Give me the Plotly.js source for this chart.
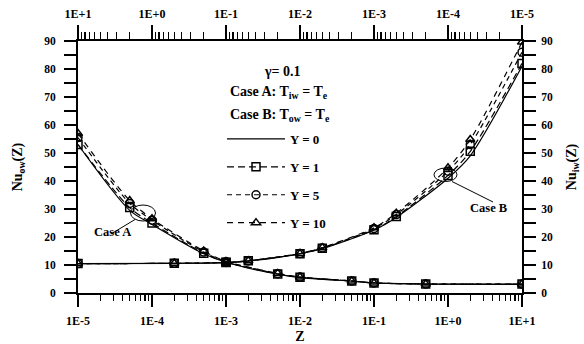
<!DOCTYPE html>
<html><head><meta charset="utf-8">
<script src="https://cdn.plot.ly/plotly-3.0.1.min.js"></script>
<style>html,body{margin:0;padding:0;background:#fff}#chart{width:584px;height:344px}</style>
</head><body><div id="chart"></div>
<script>
// Z values at which the curves are marked (bottom axis for Case A, reversed top axis for Case B)
const zValues = [1e-5, 5e-5, 1e-4, 5e-4, 1e-3, 5e-3, 1e-2, 5e-2, 1e-1, 5e-1, 10];
// Case A: Nu_ow(Z)
const caseA_Y0  = [53, 29.5, 24.5, 14.0, 11.0, 6.7, 5.5, 4.2, 3.6, 3.2, 3.1];
const caseA_Y1  = [53, 30.5, 25.0, 14.2, 11.0, 6.8, 5.6, 4.3, 3.6, 3.2, 3.2];
const caseA_Y5  = [55.5, 32.0, 26.0, 14.6, 11.2, 6.9, 5.7, 4.3, 3.6, 3.2, 3.2];
const caseA_Y10 = [57, 33.0, 26.5, 15.0, 11.3, 7.0, 5.7, 4.3, 3.6, 3.2, 3.2];
// Case B: Nu_iw(Z)
const caseB_Y0  = [81, 49.0, 41.0, 27.0, 22.5, 15.8, 14.0, 11.4, 10.8, 10.6, 10.5];
const caseB_Y1  = [82, 50.6, 42.0, 27.3, 22.6, 16.0, 14.0, 11.5, 10.9, 10.6, 10.5];
const caseB_Y5  = [86, 53.0, 43.5, 28.0, 23.0, 16.1, 14.1, 11.5, 10.9, 10.6, 10.5];
const caseB_Y10 = [89.6, 54.8, 44.7, 28.5, 23.3, 16.2, 14.1, 11.5, 10.9, 10.6, 10.5];
// legend names
const seriesNames = ['Y = 0', 'Y = 1', 'Y = 5', 'Y = 10'];
// tick labels
const bottomTickVals = [1e-5, 1e-4, 1e-3, 1e-2, 1e-1, 1, 10];
const bottomTickText = ['1E-5', '1E-4', '1E-3', '1E-2', '1E-1', '1E+0', '1E+1'];
const topTickVals = [10, 1, 1e-1, 1e-2, 1e-3, 1e-4, 1e-5];
const topTickText = ['1E+1', '1E+0', '1E-1', '1E-2', '1E-3', '1E-4', '1E-5'];

const FONT = 'Liberation Serif';
const styles = [
  {mode: 'lines', dash: 'solid', symbol: 'square-open'},
  {mode: 'lines+markers', dash: '7px,4px', symbol: 'square-open'},
  {mode: 'lines+markers', dash: '5px,4px', symbol: 'circle-open'},
  {mode: 'lines+markers', dash: '6px,5px', symbol: 'triangle-up-open'}
];
const aSets = [caseA_Y0, caseA_Y1, caseA_Y5, caseA_Y10];
const bSets = [caseB_Y0, caseB_Y1, caseB_Y5, caseB_Y10];
const traces = [];
aSets.forEach((ys, i) => {
  traces.push({
    x: zValues, y: ys, xaxis: 'x', yaxis: 'y', type: 'scatter', mode: styles[i].mode,
    name: seriesNames[i], legendgroup: 'g' + i, showlegend: true,
    line: {color: '#000', width: 1.2, dash: styles[i].dash, shape: 'spline', smoothing: 0.8},
    marker: {symbol: styles[i].symbol, size: 8, color: '#000', line: {color: '#000', width: 1.5}}
  });
});
bSets.forEach((ys, i) => {
  traces.push({
    x: zValues, y: ys, xaxis: 'x2', yaxis: 'y2', type: 'scatter', mode: styles[i].mode,
    name: seriesNames[i], legendgroup: 'g' + i, showlegend: false,
    line: {color: '#000', width: 1.2, dash: styles[i].dash, shape: 'spline', smoothing: 0.8},
    marker: {symbol: styles[i].symbol, size: 8, color: '#000', line: {color: '#000', width: 1.5}}
  });
});

const tickFontX = {family: FONT, size: 12, color: '#000', weight: 'bold'};
const tickFontY = {family: FONT, size: 11.5, color: '#000', weight: 'bold'};
function px(x) { return (x - 78) / 444; }
function py(y) { return (293 - y) / 252; }

const layout = {
  width: 584, height: 344,
  margin: {l: 78, r: 62, t: 41, b: 51},
  paper_bgcolor: '#fff', plot_bgcolor: '#fff',
  font: {family: FONT, color: '#000'},
  showlegend: true,
  legend: {x: px(222), y: py(124), xanchor: 'left', yanchor: 'top', bgcolor: 'rgba(0,0,0,0)',
    font: {family: FONT, size: 13, color: '#000', weight: 'bold'}, tracegroupgap: 8, itemwidth: 58},
  xaxis: {type: 'log', range: [-5, 1], tickmode: 'array', tickvals: bottomTickVals, ticktext: bottomTickText,
    showline: true, linewidth: 2, linecolor: '#000', ticks: 'outside', ticklen: 12, tickwidth: 2, tickcolor: '#000',
    showgrid: false, zeroline: false, tickfont: tickFontX, ticklabelstandoff: 4,
    minor: {dtick: 'D1', ticks: 'outside', ticklen: 6, tickwidth: 1.5, tickcolor: '#000', showgrid: false},
    title: {text: 'Z', font: {family: FONT, size: 14, color: '#000', weight: 'bold'}, standoff: 5}},
  xaxis2: {type: 'log', range: [1, -5], overlaying: 'x', side: 'top', anchor: 'y', tickmode: 'array',
    tickvals: topTickVals, ticktext: topTickText,
    showline: true, linewidth: 2, linecolor: '#000', ticks: 'outside', ticklen: 14, tickwidth: 2, tickcolor: '#000',
    showgrid: false, zeroline: false, tickfont: tickFontX, ticklabelstandoff: 2,
    minor: {dtick: 'D1', ticks: 'outside', ticklen: 7, tickwidth: 1.5, tickcolor: '#000', showgrid: false}},
  yaxis: {range: [0, 90], dtick: 10, showline: true, linewidth: 2, linecolor: '#000', ticks: 'outside', ticklen: 12,
    tickwidth: 2, tickcolor: '#000', showgrid: false, zeroline: false, tickfont: tickFontY, ticklabelstandoff: 6,
    minor: {dtick: 5, ticks: 'outside', ticklen: 12, tickwidth: 2, tickcolor: '#000', showgrid: false},
    title: {text: 'Nu<sub>ow</sub>(Z)', font: {family: FONT, size: 14, color: '#000', weight: 'bold'}, standoff: 18}},
  yaxis2: {range: [0, 90], dtick: 10, overlaying: 'y', side: 'right', anchor: 'x', showline: true, linewidth: 2,
    linecolor: '#000', ticks: 'outside', ticklen: 12, tickwidth: 2, tickcolor: '#000', showgrid: false, zeroline: false,
    tickfont: tickFontY, ticklabelstandoff: 3,
    minor: {dtick: 5, ticks: 'outside', ticklen: 12, tickwidth: 2, tickcolor: '#000', showgrid: false},
    title: {text: 'Nu<sub>iw</sub>(Z)', font: {family: FONT, size: 14, color: '#000', weight: 'bold'}, standoff: 14}},
  annotations: [
    {xref: 'paper', yref: 'paper', x: px(282), y: py(62), xanchor: 'center', text: 'γ= 0.1', showarrow: false,
      font: {family: FONT, size: 14, color: '#000', weight: 'bold'}},
    {xref: 'paper', yref: 'paper', x: px(228), y: py(82), xanchor: 'left', text: 'Case A: T<sub>iw</sub> = T<sub>e</sub>', showarrow: false,
      font: {family: FONT, size: 14, color: '#000', weight: 'bold'}},
    {xref: 'paper', yref: 'paper', x: px(228), y: py(105), xanchor: 'left', text: 'Case B: T<sub>ow</sub> = T<sub>e</sub>', showarrow: false,
      font: {family: FONT, size: 14, color: '#000', weight: 'bold'}},
    {xref: 'paper', yref: 'paper', x: px(112), y: py(241), xanchor: 'center', text: 'Case A', showarrow: false,
      font: {family: FONT, size: 12.5, color: '#000', weight: 'bold'}},
    {xref: 'paper', yref: 'paper', x: px(488.5), y: py(208), xanchor: 'center', text: 'Case B', showarrow: false,
      font: {family: FONT, size: 12.5, color: '#000', weight: 'bold'}}
  ],
  shapes: [
    {type: 'circle', xref: 'paper', yref: 'paper', x0: px(130.5), x1: px(155.5), y0: py(221), y1: py(205), line: {color: '#000', width: 1}},
    {type: 'circle', xref: 'paper', yref: 'paper', x0: px(434), x1: px(457), y0: py(181.5), y1: py(168), line: {color: '#000', width: 1}},
    {type: 'line', xref: 'paper', yref: 'paper', x0: px(135), y0: py(219.5), x1: px(111), y1: py(234), line: {color: '#000', width: 1}},
    {type: 'line', xref: 'paper', yref: 'paper', x0: px(452), y0: py(181.5), x1: px(493), y1: py(202), line: {color: '#000', width: 1}}
  ]
};
Plotly.newPlot('chart', traces, layout, {staticPlot: true, displayModeBar: false});
</script>
</body></html>
